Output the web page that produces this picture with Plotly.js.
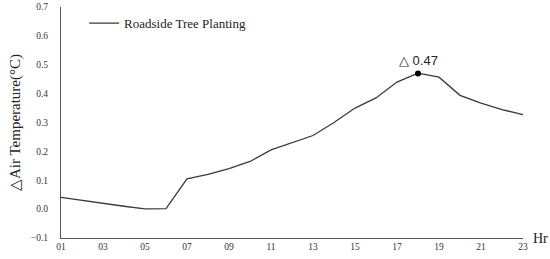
<!DOCTYPE html>
<html>
<head>
<meta charset="utf-8">
<script src="https://cdn.plot.ly/plotly-3.0.1.min.js"></script>
<style>html,body{margin:0;padding:0;background:#fff;}#chart{width:550px;height:259px;}</style>
</head>
<body>
<div id="chart"></div>
<script>
const hours = [1,2,3,4,5,6,7,8,9,10,11,12,13,14,15,16,17,18,19,20,21,22,23];
const deltaTemp = [0.041,0.030,0.020,0.010,0.001,0.002,0.105,0.120,0.140,0.165,0.205,0.230,0.255,0.300,0.350,0.385,0.440,0.471,0.457,0.394,0.367,0.345,0.327];
const tickHours = [1,3,5,7,9,11,13,15,17,19,21,23];
const tickLabels = ["01","03","05","07","09","11","13","15","17","19","21","23"];
const yTicks = [-0.1,0,0.1,0.2,0.3,0.4,0.5,0.6,0.7];
const yTickLabels = ["\u22120.1","0.0","0.1","0.2","0.3","0.4","0.5","0.6","0.7"];
const peakHour = [18];
const peakValue = [0.47];
const seriesName = "Roadside Tree Planting";

const serif = "Liberation Serif, Times New Roman, serif";
const traces = [
  {x: hours, y: deltaTemp, type: 'scatter', mode: 'lines', name: seriesName,
   line: {color: '#3a3a3a', width: 1.3}},
  {x: peakHour, y: peakValue, type: 'scatter', mode: 'markers', showlegend: false,
   marker: {color: '#000', size: 6}}
];
const layout = {
  width: 550, height: 259,
  margin: {l: 61, r: 27, t: 7, b: 21},
  paper_bgcolor: '#fff', plot_bgcolor: '#fff',
  showlegend: true,
  legend: {x: 0.05, y: 0.93, xanchor: 'left', yanchor: 'middle', itemwidth: 30,
           font: {family: serif, size: 13, color: '#222'}, bgcolor: 'rgba(0,0,0,0)'},
  xaxis: {range: [1, 23], tickvals: tickHours, ticktext: tickLabels, showgrid: false, zeroline: false,
          showline: true, linecolor: '#555', linewidth: 1, ticks: '', tickfont: {family: serif, size: 9.5, color: '#333'}},
  yaxis: {range: [-0.1, 0.7], tickvals: yTicks, ticktext: yTickLabels, showgrid: false, zeroline: false,
          showline: true, linecolor: '#555', linewidth: 1, ticks: '', ticklabelstandoff: 10,
          tickfont: {family: serif, size: 9.5, color: '#333'},
          title: {text: '\u25B3Air Temperature(\u00B0C)', font: {family: serif, size: 15, color: '#222'}, standoff: 6}},
  annotations: [
    {x: peakHour[0], y: peakValue[0], xref: 'x', yref: 'y', text: '\u25B3 ' + peakValue[0].toFixed(2), showarrow: false,
     yshift: 13, font: {family: 'Liberation Sans, Arial, sans-serif', size: 13, color: '#222'}},
    {x: 1, y: 0, xref: 'paper', yref: 'paper', text: 'Hr', showarrow: false, xanchor: 'left', yanchor: 'middle',
     xshift: 8, font: {family: serif, size: 14, color: '#222'}}
  ]
};
Plotly.newPlot('chart', traces, layout, {displayModeBar: false, staticPlot: true});
</script>
</body>
</html>
